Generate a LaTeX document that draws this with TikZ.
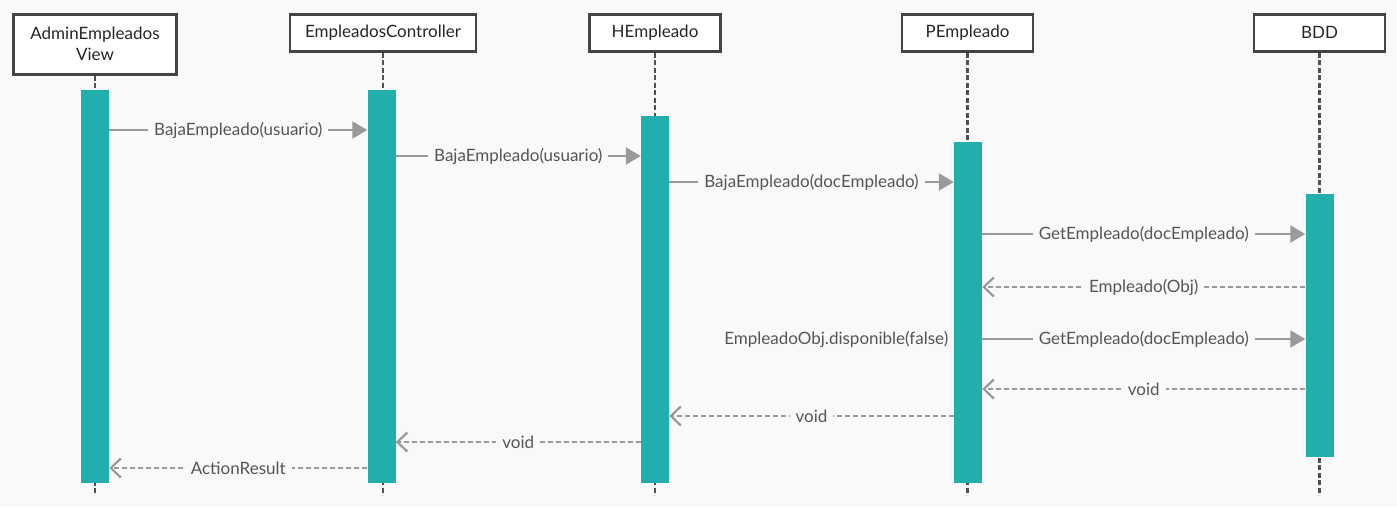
\documentclass[tikz,border=0pt]{standalone}
\usepackage{fontspec}
\setmainfont{Lato}
\usetikzlibrary{arrows.meta}
\usetikzlibrary{positioning}

\definecolor{bgcol}{HTML}{F9F9FB}
\definecolor{barcol}{HTML}{23AEAE}
\definecolor{boxcol}{HTML}{444444}
\definecolor{lifecol}{HTML}{505050}
\definecolor{msgcol}{HTML}{9A9A9A}
\definecolor{txtcol}{HTML}{555555}

\begin{document}
\begin{tikzpicture}[x=1pt, y=-1pt, font=\fontsize{17}{21}\selectfont]
            \tikzstyle{obj}=[draw=boxcol, line width=2.5pt, fill=white, text=black!85, minimum width=131, minimum height=37, anchor=north, align=center]
            \tikzstyle{bar}=[fill=barcol, minimum width=28, inner sep=0pt, anchor=north]
            \tikzstyle{life}=[draw=lifecol, line width=2.2pt, dash pattern=on 5pt off 2.5pt]
            \tikzstyle{call}=[draw=msgcol, line width=2.2pt, -{Triangle[length=15pt, width=17pt]}]
            \tikzstyle{ret}=[draw=msgcol, line width=1.8pt, dash pattern=on 5pt off 3pt, -{Straight Barb[length=10pt, width=19pt, line width=2.2pt]}]
            \tikzstyle{lbl}=[fill=bgcol, text=txtcol, inner xsep=6pt, inner ysep=2pt]

            \fill[bgcol] (0,0) rectangle (1397,507);
            \useasboundingbox (0,0) rectangle (1397,507);

            % objects
            \node[obj, minimum width=163, minimum height=60, inner ysep=2pt] (view) at (95,13) {AdminEmpleados\\View};
            \node[obj, minimum width=186] (ctrl) at (383,13) {EmpleadosController};
            \node[obj] (hemp) at (655,13) {HEmpleado};
            \node[obj] (pemp) at (967.5,13) {PEmpleado};
            \node[obj] (bdd) at (1319.5,13) {BDD};

            \coordinate (bottom) at (0,495);
            \foreach \o in {view,ctrl,hemp,pemp,bdd}
              \draw[life] (\o.south) -- (\o.south |- bottom);

            % activations
            \node[bar, minimum height=393] (bView) at (95,90) {};
            \node[bar, minimum height=393] (bCtrl) at (381.5,90) {};
            \node[bar, minimum height=367] (bHemp) at (655,116) {};
            \node[bar, minimum height=341] (bPemp) at (968,142) {};
            \node[bar, minimum height=263] (bBdd) at (1319.5,194) {};

            % message rows
            \coordinate (r1) at (0,130);
            \coordinate (r2) at (0,156);
            \coordinate (r3) at (0,182);
            \coordinate (r4) at (0,234);
            \coordinate (r5) at (0,287);
            \coordinate (r6) at (0,339);
            \coordinate (r7) at (0,389);
            \coordinate (r8) at (0,416);
            \coordinate (r9) at (0,442);
            \coordinate (r10) at (0,468);

            \draw[call] (bView.east |- r1) -- node[lbl] {BajaEmpleado(usuario)} (bCtrl.west |- r1);
            \draw[call] (bCtrl.east |- r2) -- node[lbl] {BajaEmpleado(usuario)} (bHemp.west |- r2);
            \draw[call] (bHemp.east |- r3) -- node[lbl] {BajaEmpleado(docEmpleado)} (bPemp.west |- r3);
            \draw[call] (bPemp.east |- r4) -- node[lbl] {GetEmpleado(docEmpleado)} (bBdd.west |- r4);
            \draw[ret] (bBdd.west |- r5) -- node[lbl] {Empleado(Obj)} (bPemp.east |- r5);
            \node[text=txtcol, anchor=east] (note) at ([xshift=-2pt]bPemp.west |- r6) {EmpleadoObj.disponible(false)};
            \draw[call] (bPemp.east |- r6) -- node[lbl] {GetEmpleado(docEmpleado)} (bBdd.west |- r6);
            \draw[ret] (bBdd.west |- r7) -- node[lbl] {void} (bPemp.east |- r7);
            \draw[ret] (bPemp.west |- r8) -- node[lbl] {void} (bHemp.east |- r8);
            \draw[ret] (bHemp.west |- r9) -- node[lbl] {void} (bCtrl.east |- r9);
            \draw[ret] (bCtrl.west |- r10) -- node[lbl] {ActionResult} (bView.east |- r10);
\end{tikzpicture}
\end{document}
